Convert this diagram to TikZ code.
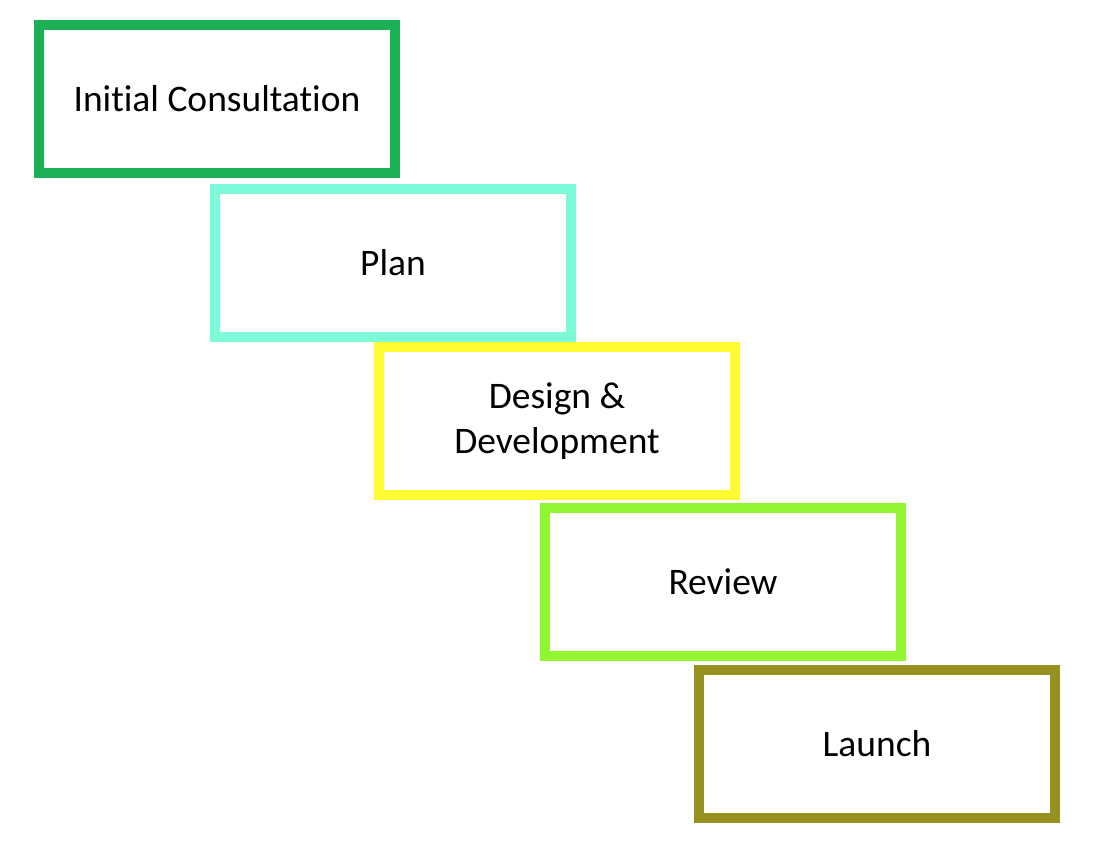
\documentclass[tikz,border=0pt]{standalone}
\usepackage{fontspec}
\setmainfont{Carlito}[Ligatures=CommonOff]
\usepackage{tikz}
\definecolor{startgreen}{RGB}{28,176,86}
\definecolor{planmint}{RGB}{125,250,215}
\definecolor{devyellow}{RGB}{255,250,50}
\definecolor{reviewlime}{RGB}{145,245,50}
\definecolor{launcholive}{RGB}{150,145,32}

\begin{document}
\begin{tikzpicture}[x=1pt,y=-1pt,
  stage/.style={draw=#1,line width=10pt,fill=white,minimum width=356pt,minimum height=148pt,
    align=center,font=\fontsize{37.5}{45}\selectfont}]
  \useasboundingbox (0,0) rectangle (1094,842);
  % staircase of project stages
  \node[stage=startgreen] (consult) at (217,99) {Initial Consultation};
  \node[stage=planmint] (plan) at (393,263) {Plan};
  \node[stage=devyellow] (design) at (557,421) {Design \&\\Development};
  \node[stage=reviewlime] (review) at (723,582) {Review};
  \node[stage=launcholive] (launch) at (877,744) {Launch};
\end{tikzpicture}
\end{document}
